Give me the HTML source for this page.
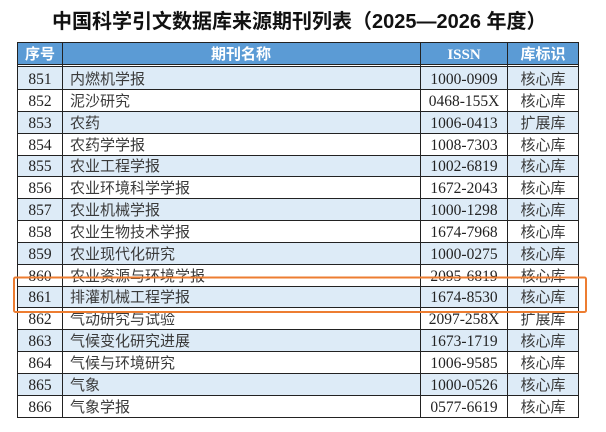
<!DOCTYPE html>
<html>
<head>
<meta charset="utf-8">
<style>
  html,body{margin:0;padding:0;background:#fff;}
  svg{display:block;}
  .t{font-family:"Liberation Sans","Noto Sans CJK SC",sans-serif;font-weight:bold;font-size:20px;fill:#111;}
  .h{font-family:"Liberation Sans","Noto Sans CJK SC",sans-serif;font-weight:bold;font-size:15px;fill:#fff;}
  .hs{font-family:"Liberation Serif","Noto Serif CJK SC",serif;font-weight:bold;font-size:15px;fill:#fff;}
  .n{font-family:"Liberation Serif",serif;font-size:15.5px;fill:#222;}
  .c{font-family:"Liberation Sans","Noto Sans CJK SC",sans-serif;font-size:15px;fill:#3a3a3a;}
</style>
</head>
<body>
<svg width="606" height="432" viewBox="0 0 606 432" xmlns="http://www.w3.org/2000/svg">
  <rect x="0" y="0" width="606" height="432" fill="#fff"/>
  <text class="t" x="52" y="28">中国科学引文数据库来源期刊列表（2025—2026 年度）</text>

  <!-- header -->
  <rect x="17" y="42" width="562" height="22" fill="#5B9BD5"/>
  <!-- row fills -->
  <g fill="#DDEBF7">
    <rect x="17" y="67" width="562" height="22"/>
    <rect x="17" y="111" width="562" height="22"/>
    <rect x="17" y="155" width="562" height="21"/>
    <rect x="17" y="198" width="562" height="22"/>
    <rect x="17" y="242" width="562" height="22"/>
    <rect x="17" y="286" width="562" height="22"/>
    <rect x="17" y="330" width="562" height="21"/>
    <rect x="17" y="373" width="562" height="22"/>
  </g>

  <!-- horizontal lines -->
  <g stroke="#222" stroke-width="1">
    <line x1="17" y1="42.5" x2="579" y2="42.5"/>
    <line x1="17" y1="64.5" x2="579" y2="64.5"/>
    <line x1="17" y1="66.5" x2="579" y2="66.5"/>
    <line x1="17" y1="89.5" x2="579" y2="89.5"/>
    <line x1="17" y1="111.5" x2="579" y2="111.5"/>
    <line x1="17" y1="133.5" x2="579" y2="133.5"/>
    <line x1="17" y1="155.5" x2="579" y2="155.5"/>
    <line x1="17" y1="176.5" x2="579" y2="176.5"/>
    <line x1="17" y1="198.5" x2="579" y2="198.5"/>
    <line x1="17" y1="220.5" x2="579" y2="220.5"/>
    <line x1="17" y1="242.5" x2="579" y2="242.5"/>
    <line x1="17" y1="264.5" x2="579" y2="264.5"/>
    <line x1="17" y1="286.5" x2="579" y2="286.5"/>
    <line x1="17" y1="307.5" x2="579" y2="307.5"/>
    <line x1="17" y1="329.5" x2="579" y2="329.5"/>
    <line x1="17" y1="351.5" x2="579" y2="351.5"/>
    <line x1="17" y1="373.5" x2="579" y2="373.5"/>
    <line x1="17" y1="395.5" x2="579" y2="395.5"/>
    <line x1="17" y1="417.5" x2="579" y2="417.5"/>
  </g>
  <!-- vertical lines -->
  <g stroke="#222" stroke-width="1">
    <line x1="17.5" y1="42" x2="17.5" y2="418"/>
    <line x1="62.5" y1="42" x2="62.5" y2="418"/>
    <line x1="420.5" y1="42" x2="420.5" y2="418"/>
    <line x1="507.5" y1="42" x2="507.5" y2="418"/>
    <line x1="578.5" y1="42" x2="578.5" y2="418"/>
  </g>

  <!-- header text -->
  <text class="h" x="40" y="59" text-anchor="middle">序号</text>
  <text class="h" x="241" y="59" text-anchor="middle">期刊名称</text>
  <text class="hs" x="464" y="59" text-anchor="middle">ISSN</text>
  <text class="h" x="543" y="59" text-anchor="middle">库标识</text>

  <!-- rows -->
  <g class="n" text-anchor="middle">
    <text x="40" y="84">851</text>
    <text x="40" y="106">852</text>
    <text x="40" y="128">853</text>
    <text x="40" y="150">854</text>
    <text x="40" y="171">855</text>
    <text x="40" y="193">856</text>
    <text x="40" y="215">857</text>
    <text x="40" y="237">858</text>
    <text x="40" y="259">859</text>
    <text x="40" y="281">860</text>
    <text x="40" y="302">861</text>
    <text x="40" y="324">862</text>
    <text x="40" y="346">863</text>
    <text x="40" y="368">864</text>
    <text x="40" y="390">865</text>
    <text x="40" y="412">866</text>
  </g>
  <g class="n" text-anchor="middle">
    <text x="464" y="84">1000-0909</text>
    <text x="464" y="106">0468-155X</text>
    <text x="464" y="128">1006-0413</text>
    <text x="464" y="150">1008-7303</text>
    <text x="464" y="171">1002-6819</text>
    <text x="464" y="193">1672-2043</text>
    <text x="464" y="215">1000-1298</text>
    <text x="464" y="237">1674-7968</text>
    <text x="464" y="259">1000-0275</text>
    <text x="464" y="281">2095-6819</text>
    <text x="464" y="302">1674-8530</text>
    <text x="464" y="324">2097-258X</text>
    <text x="464" y="346">1673-1719</text>
    <text x="464" y="368">1006-9585</text>
    <text x="464" y="390">1000-0526</text>
    <text x="464" y="412">0577-6619</text>
  </g>
  <g class="c">
    <text x="70" y="84">内燃机学报</text>
    <text x="70" y="106">泥沙研究</text>
    <text x="70" y="128">农药</text>
    <text x="70" y="150">农药学学报</text>
    <text x="70" y="171">农业工程学报</text>
    <text x="70" y="193">农业环境科学学报</text>
    <text x="70" y="215">农业机械学报</text>
    <text x="70" y="237">农业生物技术学报</text>
    <text x="70" y="259">农业现代化研究</text>
    <text x="70" y="281">农业资源与环境学报</text>
    <text x="70" y="302">排灌机械工程学报</text>
    <text x="70" y="324">气动研究与试验</text>
    <text x="70" y="346">气候变化研究进展</text>
    <text x="70" y="368">气候与环境研究</text>
    <text x="70" y="390">气象</text>
    <text x="70" y="412">气象学报</text>
  </g>
  <g class="c" text-anchor="middle">
    <text x="543" y="84">核心库</text>
    <text x="543" y="106">核心库</text>
    <text x="543" y="128">扩展库</text>
    <text x="543" y="150">核心库</text>
    <text x="543" y="171">核心库</text>
    <text x="543" y="193">核心库</text>
    <text x="543" y="215">核心库</text>
    <text x="543" y="237">核心库</text>
    <text x="543" y="259">核心库</text>
    <text x="543" y="281">核心库</text>
    <text x="543" y="302">核心库</text>
    <text x="543" y="324">扩展库</text>
    <text x="543" y="346">核心库</text>
    <text x="543" y="368">核心库</text>
    <text x="543" y="390">核心库</text>
    <text x="543" y="412">核心库</text>
  </g>

  <!-- orange highlight box -->
  <rect x="14" y="277.5" width="572" height="34.5" rx="1.5" fill="none" stroke="#ED7D31" stroke-width="2"/>
</svg>
</body>
</html>
